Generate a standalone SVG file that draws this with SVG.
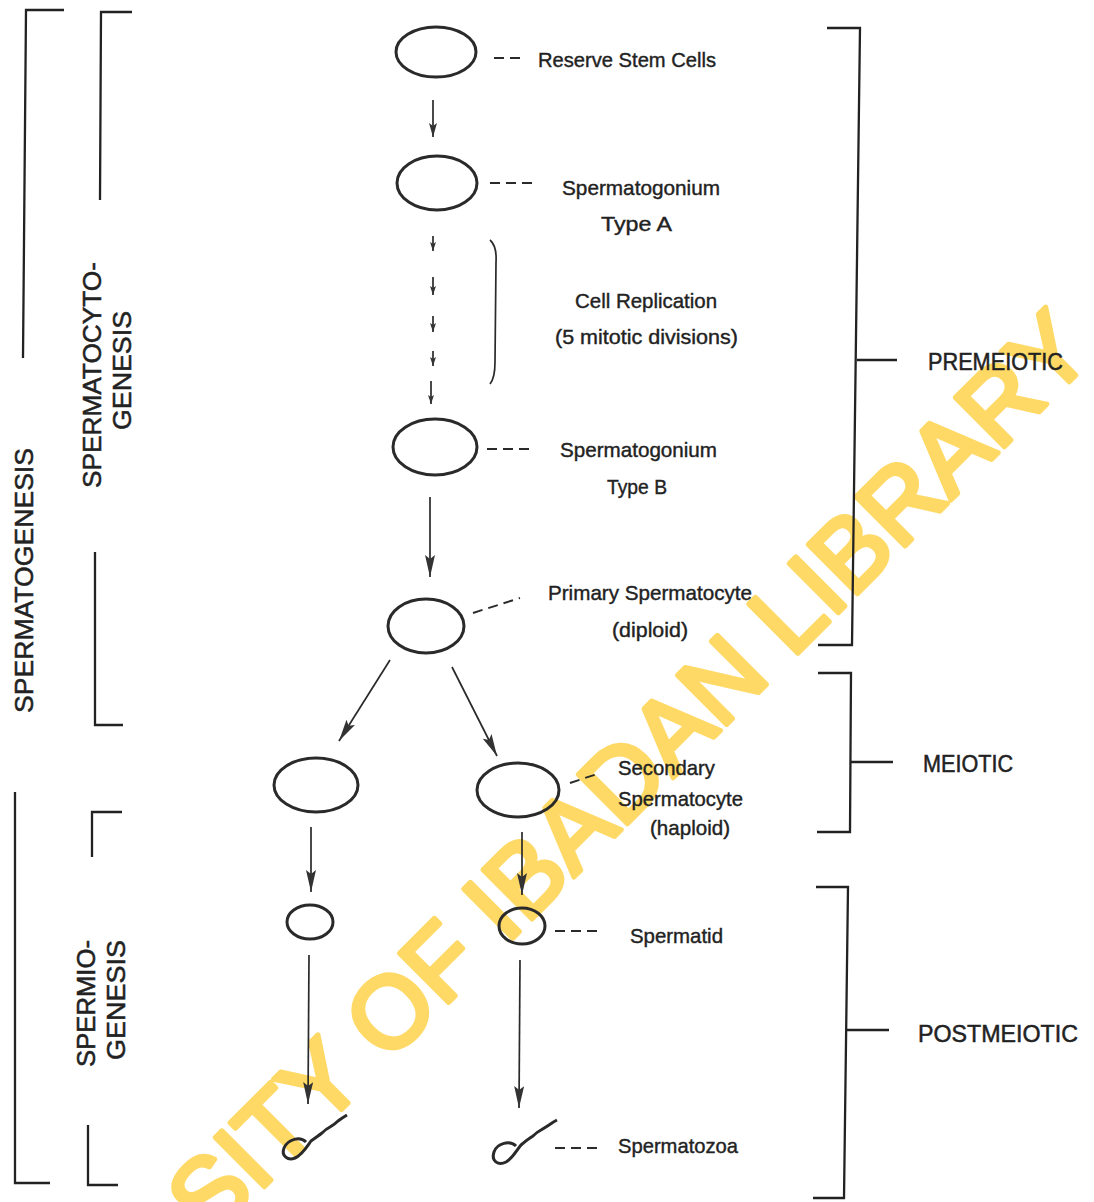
<svg xmlns="http://www.w3.org/2000/svg" width="1094" height="1202" viewBox="0 0 1094 1202">
<style>
  .cell{fill:none;stroke:#2a2a2a;stroke-width:3}
  .ln{fill:none;stroke:#2a2a2a;stroke-width:1.7}
  .br{fill:none;stroke:#222;stroke-width:2.3}
  .dash{fill:none;stroke:#2a2a2a;stroke-width:1.9;stroke-dasharray:10 6}
  .lbl{font-family:"Liberation Sans",Arial,sans-serif;font-size:21px;fill:#222;stroke:#222;stroke-width:0.4}
  .stage{font-family:"Liberation Sans",Arial,sans-serif;font-size:24px;fill:#222;stroke:#222;stroke-width:0.5}
  .vlbl{font-family:"Liberation Sans",Arial,sans-serif;font-size:25px;fill:#222;stroke:#222;stroke-width:0.5}
  .wm{font-family:"Liberation Sans",Arial,sans-serif;font-size:101px;fill:#FFD966;stroke:#FFD966;stroke-width:5;stroke-linejoin:round}
</style>
<defs>
  <marker id="ah" markerUnits="userSpaceOnUse" markerWidth="22" markerHeight="10" refX="22" refY="5" orient="auto">
    <path d="M0,0 L22,5 L0,10 L4,5 z" fill="#333"/>
  </marker>
  <marker id="ahm" markerUnits="userSpaceOnUse" markerWidth="14" markerHeight="8" refX="14" refY="4" orient="auto">
    <path d="M0,0 L14,4 L0,8 L3,4 z" fill="#333"/>
  </marker>
  <marker id="ahs" markerUnits="userSpaceOnUse" markerWidth="9" markerHeight="6" refX="9" refY="3" orient="auto">
    <path d="M0,0 L9,3 L0,6 L2,3 z" fill="#333"/>
  </marker>
</defs>
<rect width="1094" height="1202" fill="#ffffff"/>

<g id="watermark">
  <text class="wm" x="210" y="1241" transform="rotate(-45 210 1241)">SITY OF IBADAN LIBRARY</text>
</g>

<g id="brackets">
  <g id="spermatogenesis">
    <path class="br" d="M64,10 L26,10 L23,358"/>
    <path class="br" d="M15,792 L15,1183 L50,1183"/>
    <text class="vlbl" x="33" y="713" transform="rotate(-90 33 713)" textLength="265" lengthAdjust="spacingAndGlyphs">SPERMATOGENESIS</text>
  </g>
  <g id="spermatocytogenesis">
    <path class="br" d="M132,12 L101,12 L100,200"/>
    <path class="br" d="M95,552 L95,725 L123,725"/>
    <text class="vlbl" x="101" y="488" transform="rotate(-90 101 488)" textLength="226" lengthAdjust="spacingAndGlyphs">SPERMATOCYTO-</text>
    <text class="vlbl" x="131" y="430" transform="rotate(-90 131 430)" textLength="119" lengthAdjust="spacingAndGlyphs">GENESIS</text>
  </g>
  <g id="spermiogenesis">
    <path class="br" d="M122,812 L92,812 L92,857"/>
    <path class="br" d="M88,1125 L88,1185 L118,1185"/>
    <text class="vlbl" x="95" y="1067" transform="rotate(-90 95 1067)" textLength="127" lengthAdjust="spacingAndGlyphs">SPERMIO-</text>
    <text class="vlbl" x="125" y="1060" transform="rotate(-90 125 1060)" textLength="120" lengthAdjust="spacingAndGlyphs">GENESIS</text>
  </g>
  <g id="premeiotic">
    <path class="br" d="M827,28 L860,28 L852,645 L818,645"/>
    <path class="br" d="M857,360 L897,360"/>
    <text class="stage" x="928" y="370" textLength="135" lengthAdjust="spacingAndGlyphs">PREMEIOTIC</text>
  </g>
  <g id="meiotic">
    <path class="br" d="M818,673 L851,673 L850,832 L817,832"/>
    <path class="br" d="M851,762 L893,762"/>
    <text class="stage" x="923" y="772" textLength="90" lengthAdjust="spacingAndGlyphs">MEIOTIC</text>
  </g>
  <g id="postmeiotic">
    <path class="br" d="M816,887 L848,887 L844,1198 L813,1198"/>
    <path class="br" d="M847,1030 L889,1030"/>
    <text class="stage" x="918" y="1042" textLength="160" lengthAdjust="spacingAndGlyphs">POSTMEIOTIC</text>
  </g>
</g>

<g id="connectors">
  <line class="ln" x1="433" y1="100" x2="433" y2="137" marker-end="url(#ahm)"/>
  <line class="ln" x1="433" y1="236" x2="433" y2="251" marker-end="url(#ahs)"/>
  <line class="ln" x1="433" y1="277" x2="433" y2="295" marker-end="url(#ahs)"/>
  <line class="ln" x1="433" y1="316" x2="433" y2="332" marker-end="url(#ahs)"/>
  <line class="ln" x1="433" y1="351" x2="433" y2="366" marker-end="url(#ahs)"/>
  <line class="ln" x1="431" y1="381" x2="431" y2="404" marker-end="url(#ahs)"/>
  <line class="ln" x1="430" y1="497" x2="430" y2="577" marker-end="url(#ah)"/>
  <line class="ln" x1="390" y1="660" x2="339" y2="741" marker-end="url(#ah)"/>
  <line class="ln" x1="452" y1="667" x2="497" y2="756" marker-end="url(#ah)"/>
  <line class="ln" x1="311" y1="827" x2="311" y2="892" marker-end="url(#ah)"/>
  <line class="ln" x1="522" y1="832" x2="522" y2="895" marker-end="url(#ah)"/>
  <line class="ln" x1="309" y1="955" x2="308" y2="1104" marker-end="url(#ah)"/>
  <line class="ln" x1="520" y1="960" x2="519" y2="1108" marker-end="url(#ah)"/>
  <path class="ln" d="M490,240 Q497,246 496,262 L495,362 Q495,378 490,384"/>
</g>

<g id="reserve-stem-cells">
  <ellipse class="cell" cx="436" cy="52" rx="40" ry="25"/>
  <path class="dash" d="M494,58 L524,58"/>
  <text class="lbl" x="538" y="67" textLength="178" lengthAdjust="spacingAndGlyphs">Reserve Stem Cells</text>
</g>

<g id="spermatogonium-a">
  <ellipse class="cell" cx="437" cy="183" rx="40" ry="27"/>
  <path class="dash" d="M490,183 L536,183"/>
  <text class="lbl" x="562" y="195" textLength="158" lengthAdjust="spacingAndGlyphs">Spermatogonium</text>
  <text class="lbl" x="601" y="231" textLength="71" lengthAdjust="spacingAndGlyphs">Type A</text>
</g>

<g id="cell-replication">
  <text class="lbl" x="575" y="308" textLength="142" lengthAdjust="spacingAndGlyphs">Cell Replication</text>
  <text class="lbl" x="555" y="344" textLength="183" lengthAdjust="spacingAndGlyphs">(5 mitotic divisions)</text>
</g>

<g id="spermatogonium-b">
  <ellipse class="cell" cx="435" cy="447" rx="42" ry="28"/>
  <path class="dash" d="M487,449 L533,449"/>
  <text class="lbl" x="560" y="457" textLength="157" lengthAdjust="spacingAndGlyphs">Spermatogonium</text>
  <text class="lbl" x="607" y="494" textLength="60" lengthAdjust="spacingAndGlyphs">Type B</text>
</g>

<g id="primary-spermatocyte">
  <ellipse class="cell" cx="426" cy="626" rx="38" ry="27"/>
  <path class="dash" d="M473,613 L520,598"/>
  <text class="lbl" x="548" y="600" textLength="204" lengthAdjust="spacingAndGlyphs">Primary Spermatocyte</text>
  <text class="lbl" x="612" y="637" textLength="76" lengthAdjust="spacingAndGlyphs">(diploid)</text>
</g>

<g id="secondary-left">
  <ellipse class="cell" cx="316" cy="785" rx="42" ry="27"/>
</g>

<g id="secondary-right">
  <ellipse class="cell" cx="518" cy="790" rx="41" ry="27"/>
  <path class="dash" d="M570,783 L597,774"/>
  <text class="lbl" x="618" y="775" textLength="97" lengthAdjust="spacingAndGlyphs">Secondary</text>
  <text class="lbl" x="618" y="806" textLength="125" lengthAdjust="spacingAndGlyphs">Spermatocyte</text>
  <text class="lbl" x="650" y="835" textLength="80" lengthAdjust="spacingAndGlyphs">(haploid)</text>
</g>

<g id="spermatid-left">
  <ellipse class="cell" cx="310" cy="922" rx="23" ry="17"/>
</g>

<g id="spermatid-right">
  <ellipse class="cell" cx="522" cy="926" rx="23" ry="18"/>
  <path class="dash" d="M555,931 L600,931"/>
  <text class="lbl" x="630" y="943" textLength="93" lengthAdjust="spacingAndGlyphs">Spermatid</text>
</g>

<g id="spermatozoa-left">
  <path class="cell" stroke-width="2.6" d="M306,1142 C300,1136 288,1139 284,1148 C281,1156 288,1161 295,1158 C302,1155 306,1148 311,1141 Q318,1136 322,1133 Q326,1129 330,1127 Q335,1124 338,1121 Q342,1118 347,1115"/>
</g>

<g id="spermatozoa-right">
  <path class="cell" stroke-width="2.6" d="M516,1146 C510,1140 497,1143 494,1152 C491,1161 498,1166 506,1162 C513,1158 516,1151 521,1145 Q528,1139 533,1136 Q537,1132 541,1130 Q546,1127 549,1125 Q553,1122 557,1120"/>
  <path class="dash" d="M555,1148 L600,1148"/>
  <text class="lbl" x="618" y="1153" textLength="120" lengthAdjust="spacingAndGlyphs">Spermatozoa</text>
</g>
</svg>
